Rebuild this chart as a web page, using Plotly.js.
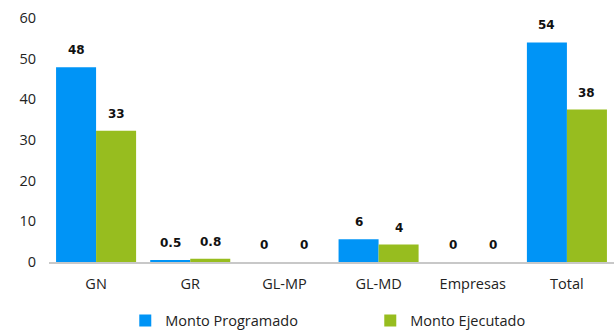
<!DOCTYPE html>
<html>
<head>
<meta charset="utf-8">
<script src="https://cdn.plot.ly/plotly-3.0.1.min.js"></script>
<style>html,body{margin:0;padding:0;background:#fff;}#chart{width:615px;height:331px;}</style>
</head>
<body>
<div id="chart"></div>
<script>
const categories = ["GN", "GR", "GL-MP", "GL-MD", "Empresas", "Total"];
const programado = [47.9, 0.5, 0, 5.6, 0, 54.0];
const ejecutado = [32.3, 0.8, 0, 4.3, 0, 37.5];
const programadoLabels = ["48", "0.5", "0", "6", "0", "54"];
const ejecutadoLabels = ["33", "0.8", "0", "4", "0", "38"];
const yTicks = [0, 10, 20, 30, 40, 50, 60];

const BLUE = "#0094F6";
const GREEN = "#97BD1F";

const traces = [
  {type: "bar", name: "Monto Programado", x: categories, y: programado,
   marker: {color: BLUE}, hoverinfo: "skip"},
  {type: "bar", name: "Monto Ejecutado", x: categories, y: ejecutado,
   marker: {color: GREEN}, hoverinfo: "skip"}
];

const labelFont = {family: "DejaVu Sans", size: 12, color: "#111"};
const annotations = [];
categories.forEach((c, i) => {
  annotations.push({x: c, y: programado[i], text: "<b>" + programadoLabels[i] + "</b>",
    showarrow: false, xref: "x", yref: "y", yanchor: "bottom", xshift: -20, yshift: 8, font: labelFont});
  annotations.push({x: c, y: ejecutado[i], text: "<b>" + ejecutadoLabels[i] + "</b>",
    showarrow: false, xref: "x", yref: "y", yanchor: "bottom", xshift: 20, yshift: 8, font: labelFont});
});

const layout = {
  width: 615, height: 331,
  margin: {l: 49, r: 1, t: 18, b: 69, autoexpand: false},
  paper_bgcolor: "#fff", plot_bgcolor: "#fff",
  barmode: "group", bargap: 0.15, bargroupgap: 0,
  font: {family: "Open Sans", size: 14, color: "#222"},
  xaxis: {type: "category", showgrid: false, showline: true, linecolor: "#c8c8c8", linewidth: 1.5,
          ticks: "", tickfont: {family: "Open Sans", size: 14.5, color: "#222"}, ticklabelstandoff: 8},
  yaxis: {range: [0, 60], tickvals: yTicks, ticktext: yTicks.map(String), showgrid: false,
          zeroline: false, showline: false, ticks: "", ticklabelstandoff: 12,
          tickfont: {family: "Open Sans", size: 14.5, color: "#222"}},
  showlegend: true,
  legend: {orientation: "h", x: 0.135, xanchor: "left", y: -0.24, yanchor: "middle",
           entrywidth: 200, entrywidthmode: "pixels",
           font: {family: "Open Sans", size: 14.5, color: "#222"}, itemwidth: 30},
  annotations: annotations
};

Plotly.newPlot("chart", traces, layout, {displayModeBar: false, staticPlot: true});
</script>
</body>
</html>
